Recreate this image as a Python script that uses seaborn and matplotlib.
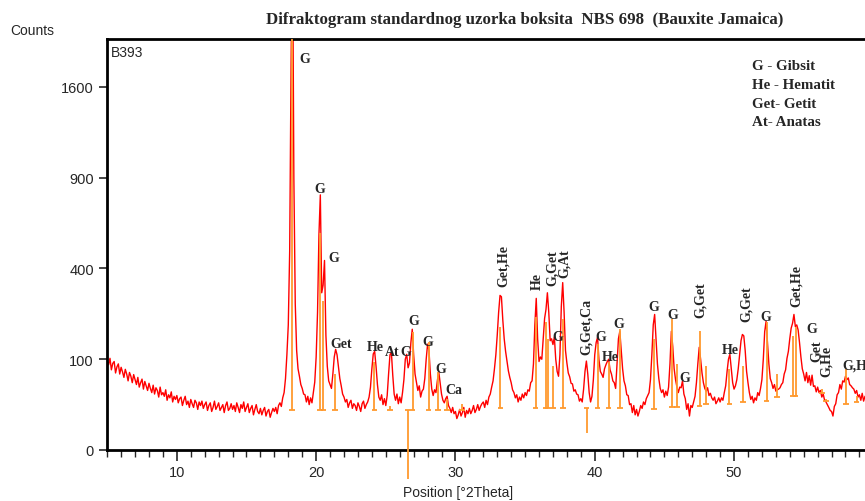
import numpy as np
import pandas as pd
import matplotlib
matplotlib.use("Agg")
import matplotlib.pyplot as plt
from matplotlib.ticker import FixedLocator, MultipleLocator, NullLocator
import seaborn as sns

# ---------------- data ----------------
scan_start = 5.0     # deg 2Theta
scan_step = 0.1      # deg 2Theta
counts = [
    96, 88, 102, 78, 91, 95, 72, 84, 90, 70,          # 5
    83, 74, 64, 79, 70, 58, 73, 66, 55, 69,           # 6
    60, 52, 64, 48, 55, 61, 45, 57, 50, 43,           # 7
    54, 46, 40, 51, 38, 47, 43, 34, 48, 37,           # 8
    40, 35, 44, 30, 37, 33, 41, 28, 35, 31,           # 9
    36, 27, 32, 34, 24, 30, 35, 25, 29, 22,           # 10
    31, 26, 22, 30, 27, 20, 28, 24, 29, 21,           # 11
    25, 28, 19, 24, 27, 18, 22, 29, 20, 23,           # 12
    27, 19, 22, 25, 17, 24, 28, 19, 21, 26,           # 13
    20, 24, 18, 27, 22, 17, 25, 21, 28, 18,           # 14
    22, 26, 17, 21, 24, 15, 20, 25, 18, 16,           # 15
    21, 15, 19, 22, 14, 18, 20, 13, 17, 21,           # 16
    18, 22, 16, 24, 27, 23, 33, 40, 62, 110,          # 17
    190, 480, 1800, 3400, 900, 260, 120, 80, 66, 52,  # 18
    46, 38, 37, 28, 35, 25, 33, 27, 40, 56,           # 19
    105, 230, 560, 790, 300, 330, 436, 160, 85, 58,   # 20
    52, 46, 70, 105, 123, 110, 84, 62, 50, 38,        # 21
    34, 28, 31, 22, 27, 30, 21, 26, 24, 19,           # 22
    27, 23, 18, 26, 29, 21, 25, 28, 34, 48,           # 23
    80, 112, 118, 85, 52, 34, 30, 37, 25, 32,         # 24
    24, 36, 70, 110, 116, 68, 38, 30, 38, 26,         # 25
    34, 27, 40, 60, 100, 111, 82, 92, 140, 177,       # 26
    110, 70, 56, 43, 50, 34, 42, 45, 62, 100,         # 27
    136, 120, 70, 45, 36, 44, 40, 58, 75, 55,         # 28
    38, 30, 27, 32, 35, 24, 21, 17, 22, 16,           # 29
    18, 12, 15, 20, 14, 17, 22, 13, 19, 16,           # 30
    21, 16, 19, 24, 17, 20, 25, 19, 23, 26,           # 31
    28, 22, 30, 25, 34, 38, 48, 58, 80, 110,          # 32
    160, 230, 290, 285, 205, 150, 118, 95, 76, 64,    # 33
    55, 44, 40, 33, 37, 28, 34, 30, 38, 33,           # 34
    40, 36, 44, 42, 55, 58, 90, 190, 279, 150,        # 35
    95, 105, 100, 150, 210, 240, 300, 230, 145, 150,  # 36
    135, 155, 100, 75, 66, 110, 250, 340, 230, 120,   # 37
    92, 72, 65, 54, 53, 42, 44, 38, 37, 29,           # 38
    32, 28, 45, 75, 96, 70, 40, 28, 35, 60,           # 39
    110, 140, 154, 100, 75, 70, 64, 80, 88, 95,       # 40
    100, 78, 70, 58, 55, 46, 90, 150, 171, 120,       # 41
    80, 58, 50, 37, 36, 25, 26, 17, 24, 15,           # 42
    20, 14, 18, 24, 21, 28, 25, 32, 36, 40,           # 43
    60, 110, 190, 223, 150, 90, 62, 46, 40, 44,       # 44
    34, 42, 36, 48, 90, 171, 130, 80, 60, 48,         # 45
    40, 48, 47, 58, 38, 32, 20, 26, 14, 24,           # 46
    22, 28, 35, 55, 90, 128, 100, 72, 55, 46,         # 47
    42, 47, 36, 39, 33, 30, 34, 26, 29, 33,           # 48
    28, 33, 30, 40, 50, 75, 100, 111, 80, 55,         # 49
    45, 50, 60, 80, 110, 145, 162, 158, 120, 75,      # 50
    55, 40, 31, 35, 27, 33, 30, 40, 36, 46,           # 51
    60, 100, 170, 201, 140, 90, 62, 55, 46, 52,       # 52
    42, 44, 45, 47, 52, 55, 70, 78, 102, 118,         # 53
    150, 180, 195, 223, 185, 190, 175, 140, 105, 80,  # 54
    70, 58, 73, 55, 67, 51, 68, 49, 50, 41,           # 55
    48, 40, 43, 34, 38, 30, 28, 25, 22, 19,           # 56
    18, 14, 23, 26, 37, 40, 52, 45, 58, 56,           # 57
    66, 60, 63, 52, 50, 47, 45, 39, 43, 34,           # 58
    37, 30, 39, 29, 35, 28,                           # 59
]

# reference pattern sticks (position, base, top)
stick_pos = [18.27, 20.27, 20.52, 21.35, 24.18, 25.30, 26.92, 28.07, 28.76,
             29.40, 30.45, 33.22, 35.75, 36.48, 36.62, 37.00, 37.72, 40.21,
             41.00, 41.80, 44.27, 45.55, 45.90, 47.53, 48.00, 49.66, 50.63,
             52.34, 53.10, 54.22, 54.42, 56.30, 56.60, 58.05, 58.80]
stick_base = [19, 19, 19, 19, 19, 19, 19, 19, 19,
              19, 19, 21, 21, 21, 21, 21, 21, 21,
              21, 21, 20, 22, 22, 23, 26, 26, 28,
              29, 34, 35, 35, 40, 29, 26, 28]
stick_top = [3000, 574, 268, 70, 94, 24, 170, 141, 73,
             31, 26, 183, 214, 200, 150, 85, 207, 136,
             94, 177, 150, 207, 89, 171, 85, 79, 85,
             198, 70, 157, 183, 45, 32, 79, 35]
# sticks pointing downwards
neg_pos = [26.56, 39.42]
neg_base = [19, 21]
neg_bottom = [-10, 3.5]

# peak labels: horizontal (text, x, y)
h_labels = ["G", "G", "G", "Get", "He", "At", "G", "G", "G", "G", "Ca",
            "G", "G", "He", "G", "G", "G", "G", "He", "G", "G"]
h_x = [19.18, 20.25, 21.25, 21.83, 24.27, 25.49, 26.42, 27.00, 28.00, 28.93, 29.87,
       37.33, 40.42, 41.14, 41.71, 44.22, 45.59, 46.45, 49.76, 52.27, 55.55]
h_y = [1858, 828, 448, 137, 129, 117, 117, 202, 144, 80, 44,
       155, 155, 105, 193, 249, 222, 63, 122, 215, 178]
# rotated labels (text, x, y of text bottom)
v_labels = ["Get,He", "He", "G,Get", "G,At", "G,Get,Ca", "G,Get", "G,Get",
            "Get,He", "Get", "G,He"]
v_x = [33.46, 35.90, 36.98, 37.84, 39.42, 47.58, 50.88, 54.47, 55.95, 56.62]
v_y = [327, 315, 330, 364, 112, 215, 202, 252, 96, 67]
edge_label = "G,He"
edge_x, edge_y = 57.79, 88

legend_lines = ["G - Gibsit", "He - Hematit", "Get- Getit", "At- Anatas"]

x_ticks = [10, 20, 30, 40, 50]
y_ticks = [0, 100, 400, 900, 1600]

# ---------------- figure ----------------
sns.set_style("ticks")
plt.rcParams["font.family"] = ["Liberation Sans", "DejaVu Sans"]

W, H = 865, 502
fig = plt.figure(figsize=(W / 100, H / 100), dpi=100)
ax = fig.add_axes([106.5 / W, 1 - 451 / H, 1 - 106.5 / W, (451 - 40) / H])

two_theta = scan_start + scan_step * np.arange(len(counts))
df = pd.DataFrame({"pos": two_theta, "counts": counts})


def fwd(y):
    y = np.asarray(y, dtype=float)
    return np.sign(y) * np.sqrt(np.abs(y))


def inv(y):
    y = np.asarray(y, dtype=float)
    return np.sign(y) * y ** 2


ax.set_yscale("function", functions=(fwd, inv))

sns.lineplot(data=df, x="pos", y="counts", ax=ax, color="#ff0000",
             linewidth=1.0, estimator=None, zorder=2)

orange = "#ff9a2e"
ax.vlines(stick_pos, stick_base, stick_top, color=orange, linewidth=1.3, zorder=3)
ax.hlines(stick_base, np.array(stick_pos) - 0.2, np.array(stick_pos) + 0.2,
          color=orange, linewidth=1.3, zorder=3)
ax.vlines(neg_pos, neg_base, neg_bottom, color=orange, linewidth=1.3, zorder=3,
          clip_on=False)
ax.hlines(neg_base, np.array(neg_pos) - 0.2, np.array(neg_pos) + 0.2,
          color=orange, linewidth=1.3, zorder=3)

ax.set_xlim(4.95, 4.95 + (W - 106.5) / 13.93)
ax.set_ylim(0, 2050)

serif = ["Liberation Serif", "DejaVu Serif"]
for t, x, y in zip(h_labels, h_x, h_y):
    ax.text(x, y, t, ha="center", va="center", fontsize=10, fontweight="bold",
            family=serif, zorder=5)
for t, x, y in zip(v_labels, v_x, v_y):
    ax.text(x, y, t, ha="center", va="bottom", rotation=90, fontsize=10,
            fontweight="bold", family=serif, zorder=5)
ax.text(edge_x, edge_y, edge_label, ha="left", va="center", fontsize=10,
        fontweight="bold", family=serif, zorder=5, clip_on=False)

for i, line in enumerate(legend_lines):
    fig.text(752 / W, 1 - (67 + i * 18.5) / H, line, ha="left", va="center",
             fontsize=10.8, fontweight="bold", family=serif)

fig.text(525 / W, 1 - 20 / H,
         "Difraktogram standardnog uzorka boksita  NBS 698  (Bauxite Jamaica)",
         ha="center", va="center", fontsize=12.2, fontweight="bold", family=serif)
fig.text(10 / W, 1 - 31 / H, "Counts", ha="left", va="center", fontsize=10)
ax.text(0.006, 0.985, "B393", transform=ax.transAxes, ha="left", va="top", fontsize=10)
fig.text(458 / W, 1 - 493 / H, "Position [°2Theta]", ha="center", va="center",
         fontsize=10)

# axes styling
ax.set_xlabel("")
ax.set_ylabel("")
ax.xaxis.set_major_locator(FixedLocator(x_ticks))
ax.xaxis.set_minor_locator(MultipleLocator(1))
ax.yaxis.set_major_locator(FixedLocator(y_ticks))
ax.yaxis.set_minor_locator(NullLocator())
ax.tick_params(axis="x", which="major", direction="out", length=8, width=1.2,
               labelsize=10.5, pad=3)
ax.tick_params(axis="x", which="minor", direction="out", length=5, width=1.0)
ax.tick_params(axis="y", which="major", direction="out", length=6, width=1.2,
               labelsize=10.5, pad=3)
for s in ["left", "bottom", "top"]:
    ax.spines[s].set_linewidth(2)
    ax.spines[s].set_color("black")
ax.spines["right"].set_visible(False)
ax.grid(False)

fig.savefig("out.png", dpi=100)
